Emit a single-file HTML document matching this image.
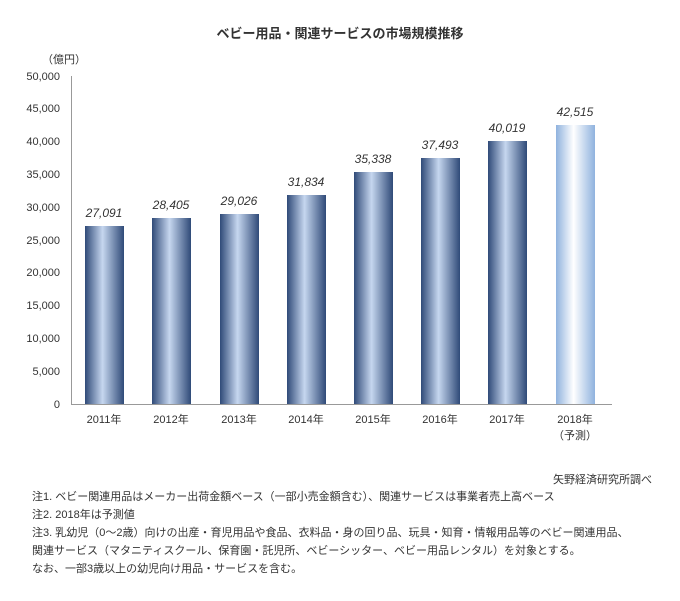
<!DOCTYPE html>
<html><head><meta charset="utf-8"><style>
body{margin:0;background:#fff;}
svg text{font-family:"Liberation Sans","Noto Sans CJK JP",sans-serif;}
</style></head><body>
<svg width="680" height="596" xmlns="http://www.w3.org/2000/svg">
<defs>
<linearGradient id="g" x1="0" x2="1" y1="0" y2="0">
<stop offset="0" stop-color="#2f4a78"/><stop offset="0.45" stop-color="#c6d7ef"/><stop offset="1" stop-color="#2f4a78"/>
</linearGradient>
<linearGradient id="g2" x1="0" x2="1" y1="0" y2="0">
<stop offset="0" stop-color="#8fb2de"/><stop offset="0.45" stop-color="#ffffff"/><stop offset="1" stop-color="#8fb2de"/>
</linearGradient>
</defs>
<text x="340" y="38" text-anchor="middle" font-size="13" font-weight="bold" fill="#333">ベビー用品・関連サービスの市場規模推移</text>
<text x="42" y="63" font-size="11" fill="#333">（億円）</text>
<g font-size="11" fill="#333" text-anchor="end">
<text x="60" y="80">50,000</text><text x="60" y="112">45,000</text><text x="60" y="145">40,000</text>
<text x="60" y="178">35,000</text><text x="60" y="211">30,000</text><text x="60" y="244">25,000</text>
<text x="60" y="276">20,000</text><text x="60" y="309">15,000</text><text x="60" y="342">10,000</text>
<text x="60" y="375">5,000</text><text x="60" y="408">0</text>
</g>
<line x1="71.5" y1="76" x2="71.5" y2="404" stroke="#999"/>
<line x1="71" y1="404.5" x2="612" y2="404.5" stroke="#999"/>
<g>
<rect x="85" y="226" width="39" height="178" fill="url(#g)"/>
<rect x="152" y="218" width="39" height="186" fill="url(#g)"/>
<rect x="220" y="214" width="39" height="190" fill="url(#g)"/>
<rect x="287" y="195" width="39" height="209" fill="url(#g)"/>
<rect x="354" y="172" width="39" height="232" fill="url(#g)"/>
<rect x="421" y="158" width="39" height="246" fill="url(#g)"/>
<rect x="488" y="141" width="39" height="263" fill="url(#g)"/>
<rect x="556" y="125" width="39" height="279" fill="url(#g2)"/>
</g>
<g font-size="12" font-style="italic" fill="#333" text-anchor="middle">
<text x="104" y="217">27,091</text><text x="171" y="209">28,405</text><text x="239" y="205">29,026</text>
<text x="306" y="186">31,834</text><text x="373" y="163">35,338</text><text x="440" y="149">37,493</text>
<text x="507" y="132">40,019</text><text x="575" y="116">42,515</text>
</g>
<g font-size="11" fill="#333" text-anchor="middle">
<text x="104" y="423">2011年</text><text x="171" y="423">2012年</text><text x="239" y="423">2013年</text>
<text x="306" y="423">2014年</text><text x="373" y="423">2015年</text><text x="440" y="423">2016年</text>
<text x="507" y="423">2017年</text><text x="575" y="423">2018年</text><text x="575" y="439">（予測）</text>
</g>
<text x="652" y="483" font-size="11" fill="#333" text-anchor="end">矢野経済研究所調べ</text>
<g font-size="11" fill="#333">
<text x="32" y="500">注1. ベビー関連用品はメーカー出荷金額ベース（一部小売金額含む）、関連サービスは事業者売上高ベース</text>
<text x="32" y="518">注2. 2018年は予測値</text>
<text x="32" y="536">注3. 乳幼児（0～2歳）向けの出産・育児用品や食品、衣料品・身の回り品、玩具・知育・情報用品等のベビー関連用品、</text>
<text x="32" y="554">関連サービス（マタニティスクール、保育園・託児所、ベビーシッター、ベビー用品レンタル）を対象とする。</text>
<text x="32" y="572">なお、一部3歳以上の幼児向け用品・サービスを含む。</text>
</g>
</svg>
</body></html>
